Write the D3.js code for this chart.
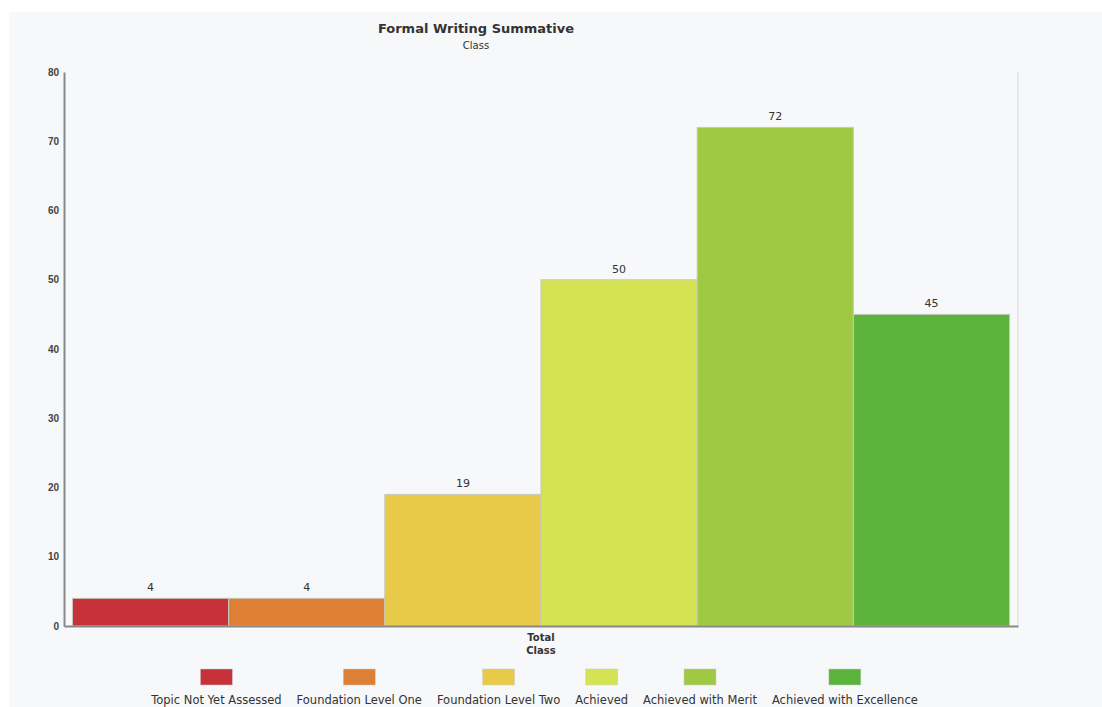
<!DOCTYPE html>
<html>
  <head>
    <script src="https://cdnjs.cloudflare.com/ajax/libs/d3/7.8.5/d3.min.js"></script>
    <style>
      body {
        margin: 0;
        background: #ffffff;
        font-family: "DejaVu Sans", Verdana, sans-serif;
      }
      .tick text {
        font-weight: bold;
        font-size: 10px;
        fill: #444;
      }
    </style>
  </head>
  <body>
    <svg id="chart" width="1102" height="707"></svg>
    <script>
      // data
      const categories = [
        "Topic Not Yet Assessed",
        "Foundation Level One",
        "Foundation Level Two",
        "Achieved",
        "Achieved with Merit",
        "Achieved with Excellence",
      ];
      const values = [4, 4, 19, 50, 72, 45];
      const colors = ["#c7323a", "#dd8035", "#e9c948", "#d5e352", "#9fc943", "#5db43d"];
      const yTicks = [0, 10, 20, 30, 40, 50, 60, 70, 80];
      const groupLabel = ["Total", "Class"];

      const svg = d3.select("#chart");

      // panel background
      svg.append("rect")
        .attr("x", 9).attr("y", 12)
        .attr("width", 1093).attr("height", 695)
        .attr("fill", "#f7f8fa");

      const plotLeft = 64, plotRight = 1018, plotTop = 72, plotBottom = 626;

      const y = d3.scaleLinear().domain([0, 80]).range([plotBottom, plotTop]);
      const x0 = d3.scaleBand().domain(["Total"]).range([plotLeft, plotRight]).paddingInner(0).paddingOuter(0.009);
      const x1 = d3.scaleBand().domain(categories).range([0, x0.bandwidth()]);

      // title
      svg.append("text")
        .attr("x", 476).attr("y", 33)
        .attr("text-anchor", "middle")
        .attr("font-size", 13).attr("font-weight", "bold").attr("fill", "#333")
        .text("Formal Writing Summative");
      svg.append("text")
        .attr("x", 476).attr("y", 49)
        .attr("text-anchor", "middle")
        .attr("font-size", 10).attr("fill", "#333")
        .text("Class");

      // right border line
      svg.append("line")
        .attr("x1", plotRight).attr("x2", plotRight)
        .attr("y1", plotTop).attr("y2", plotBottom)
        .attr("stroke", "#e2e2e2").attr("stroke-width", 1.5);

      // bars
      const g = svg.append("g").attr("transform", `translate(${x0("Total")},0)`);
      g.selectAll("rect")
        .data(values)
        .enter()
        .append("rect")
        .attr("x", (d, i) => x1(categories[i]))
        .attr("y", (d) => y(d))
        .attr("width", x1.bandwidth())
        .attr("height", (d) => y(0) - y(d))
        .attr("fill", (d, i) => colors[i])
        .attr("stroke", "#c9c9c0")
        .attr("stroke-width", 1);

      g.selectAll("text.val")
        .data(values)
        .enter()
        .append("text")
        .attr("class", "val")
        .attr("x", (d, i) => x1(categories[i]) + x1.bandwidth() / 2)
        .attr("y", (d) => y(d) - 7)
        .attr("text-anchor", "middle")
        .attr("font-size", 11).attr("fill", "#333")
        .text((d) => d);

      // y axis
      const yAxis = svg.append("g")
        .attr("transform", `translate(${plotLeft},0)`)
        .call(d3.axisLeft(y).tickValues(yTicks).tickSize(0).tickPadding(5));
      yAxis.select(".domain").attr("stroke", "#888").attr("stroke-width", 2);

      // x axis
      const xAxis = svg.append("g")
        .attr("transform", `translate(0,${plotBottom})`)
        .call(d3.axisBottom(x0).tickSize(0).tickFormat(() => ""));
      xAxis.select(".domain").attr("stroke", "#888").attr("stroke-width", 2);
      xAxis.selectAll(".tick text").remove();
      groupLabel.forEach((t, i) => {
        svg.append("text")
          .attr("x", x0("Total") + x0.bandwidth() / 2)
          .attr("y", 641 + i * 13)
          .attr("text-anchor", "middle")
          .attr("font-size", 10).attr("font-weight", "bold").attr("fill", "#333")
          .text(t);
      });

      // legend
      const legend = svg.append("g");
      const items = legend.selectAll("g")
        .data(categories)
        .enter()
        .append("g");
      items.append("text")
        .attr("y", 704)
        .attr("text-anchor", "middle")
        .attr("font-size", 11.5).attr("fill", "#333")
        .text((d) => d);
      const widths = [];
      items.select("text").each(function () { widths.push(this.getComputedTextLength()); });
      const gap = 15;
      const total = d3.sum(widths) + gap * (widths.length - 1);
      let cx = 534.5 - total / 2;
      const centers = widths.map((w) => { const c = cx + w / 2; cx += w + gap; return c; });
      items.attr("transform", (d, i) => `translate(${centers[i]},0)`);
      items.insert("rect", "text")
        .attr("x", -16).attr("y", 669)
        .attr("width", 32).attr("height", 16)
        .attr("fill", (d, i) => colors[i])
        .attr("stroke", "#ccc").attr("stroke-width", 0.5);
    </script>
  </body>
</html>
